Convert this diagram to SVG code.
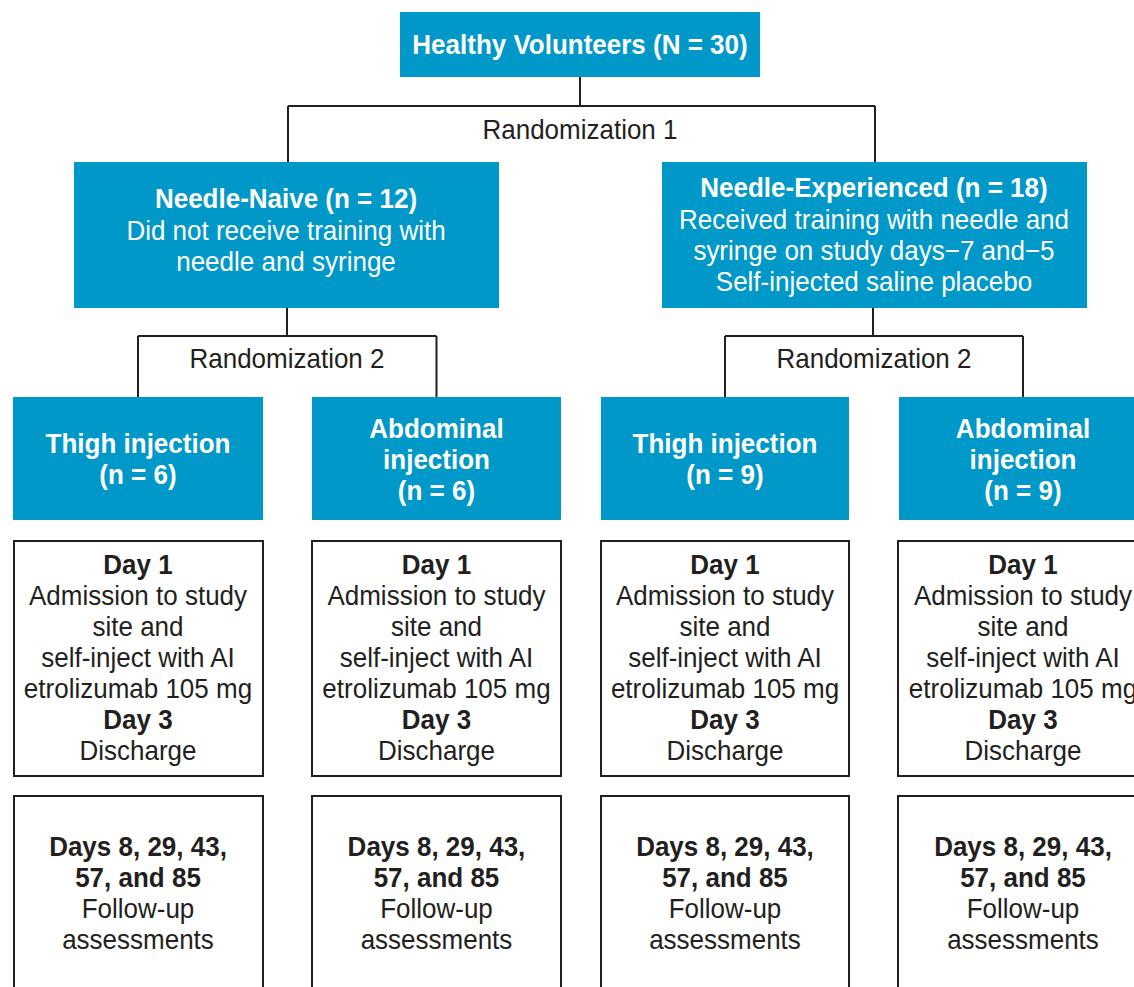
<svg xmlns="http://www.w3.org/2000/svg" width="1134" height="987" viewBox="0 0 1134 987">
<style>
text { font-family: "Liberation Sans", Arial, sans-serif; font-size: 26px; text-anchor: middle; transform-box: fill-box; transform-origin: center; transform: scaleY(1.08); }
.w { fill: #ffffff; }
.d { fill: #231f20; }
.b { font-weight: bold; }
.blue { fill: #0098c8; }
.box { fill: #ffffff; stroke: #231f20; stroke-width: 2; }
.conn { fill: none; stroke: #231f20; stroke-width: 2; }
</style>
<rect width="1134" height="987" fill="#ffffff"/>
<g id="connectors">
  <path class="conn" d="M580 77 V106 M288 106 H875 M288 106 V162 M875 106 V162"/>
  <path class="conn" d="M287 308 V336 M138 336 H436.5 M138 336 V397 M436.5 336 V397"/>
  <path class="conn" d="M873 308 V336 M725 336 H1023 M725 336 V397 M1023 336 V397"/>
  <text class="d" x="580" y="138">Randomization 1</text>
  <text class="d" x="287" y="367">Randomization 2</text>
  <text class="d" x="874" y="367">Randomization 2</text>
</g>
<g id="healthy">
  <rect class="blue" x="400" y="12" width="360" height="65"/>
  <text class="w b" x="580" y="53">Healthy Volunteers (N = 30)</text>
</g>
<g id="naive">
  <rect class="blue" x="74" y="162" width="425" height="146"/>
  <text class="w b" x="286" y="207">Needle-Naive (n = 12)</text>
  <text class="w" x="286" y="239">Did not receive training with</text>
  <text class="w" x="286" y="270">needle and syringe</text>
</g>
<g id="experienced">
  <rect class="blue" x="662" y="162" width="425" height="146"/>
  <text class="w b" x="874" y="196">Needle-Experienced (n = 18)</text>
  <text class="w" x="874" y="228">Received training with needle and</text>
  <text class="w" x="874" y="259">syringe on study days−7 and−5</text>
  <text class="w" x="874" y="290">Self-injected saline placebo</text>
</g>
<g id="thigh1">
  <rect class="blue" x="13" y="397" width="250" height="123"/>
  <text class="w b" x="138" y="452">Thigh injection</text>
  <text class="w b" x="138" y="483">(n = 6)</text>
</g>
<g id="abd1">
  <rect class="blue" x="312" y="397" width="249" height="123"/>
  <text class="w b" x="436.5" y="437">Abdominal</text>
  <text class="w b" x="436.5" y="468">injection</text>
  <text class="w b" x="436.5" y="499">(n = 6)</text>
</g>
<g id="thigh2">
  <rect class="blue" x="601" y="397" width="248" height="123"/>
  <text class="w b" x="725" y="452">Thigh injection</text>
  <text class="w b" x="725" y="483">(n = 9)</text>
</g>
<g id="abd2">
  <rect class="blue" x="899" y="397" width="249" height="123"/>
  <text class="w b" x="1023" y="437">Abdominal</text>
  <text class="w b" x="1023" y="468">injection</text>
  <text class="w b" x="1023" y="499">(n = 9)</text>
</g>
<g id="day1">
  <rect class="box" x="14" y="541" width="249" height="235"/>
  <text class="d b" x="138" y="573">Day 1</text>
  <text class="d" x="138" y="604">Admission to study</text>
  <text class="d" x="138" y="635">site and</text>
  <text class="d" x="138" y="666">self-inject with AI</text>
  <text class="d" x="138" y="697">etrolizumab 105 mg</text>
  <text class="d b" x="138" y="728">Day 3</text>
  <text class="d" x="138" y="759">Discharge</text>
</g>
<g id="day2">
  <rect class="box" x="312" y="541" width="249" height="235"/>
  <text class="d b" x="436.5" y="573">Day 1</text>
  <text class="d" x="436.5" y="604">Admission to study</text>
  <text class="d" x="436.5" y="635">site and</text>
  <text class="d" x="436.5" y="666">self-inject with AI</text>
  <text class="d" x="436.5" y="697">etrolizumab 105 mg</text>
  <text class="d b" x="436.5" y="728">Day 3</text>
  <text class="d" x="436.5" y="759">Discharge</text>
</g>
<g id="day3">
  <rect class="box" x="601" y="541" width="248" height="235"/>
  <text class="d b" x="725" y="573">Day 1</text>
  <text class="d" x="725" y="604">Admission to study</text>
  <text class="d" x="725" y="635">site and</text>
  <text class="d" x="725" y="666">self-inject with AI</text>
  <text class="d" x="725" y="697">etrolizumab 105 mg</text>
  <text class="d b" x="725" y="728">Day 3</text>
  <text class="d" x="725" y="759">Discharge</text>
</g>
<g id="day4">
  <rect class="box" x="898" y="541" width="250" height="235"/>
  <text class="d b" x="1023" y="573">Day 1</text>
  <text class="d" x="1023" y="604">Admission to study</text>
  <text class="d" x="1023" y="635">site and</text>
  <text class="d" x="1023" y="666">self-inject with AI</text>
  <text class="d" x="1023" y="697">etrolizumab 105 mg</text>
  <text class="d b" x="1023" y="728">Day 3</text>
  <text class="d" x="1023" y="759">Discharge</text>
</g>
<g id="follow1">
  <rect class="box" x="14" y="796" width="249" height="220"/>
  <text class="d b" x="138" y="855">Days 8, 29, 43,</text>
  <text class="d b" x="138" y="886">57, and 85</text>
  <text class="d" x="138" y="917">Follow-up</text>
  <text class="d" x="138" y="948">assessments</text>
</g>
<g id="follow2">
  <rect class="box" x="312" y="796" width="249" height="220"/>
  <text class="d b" x="436.5" y="855">Days 8, 29, 43,</text>
  <text class="d b" x="436.5" y="886">57, and 85</text>
  <text class="d" x="436.5" y="917">Follow-up</text>
  <text class="d" x="436.5" y="948">assessments</text>
</g>
<g id="follow3">
  <rect class="box" x="601" y="796" width="248" height="220"/>
  <text class="d b" x="725" y="855">Days 8, 29, 43,</text>
  <text class="d b" x="725" y="886">57, and 85</text>
  <text class="d" x="725" y="917">Follow-up</text>
  <text class="d" x="725" y="948">assessments</text>
</g>
<g id="follow4">
  <rect class="box" x="898" y="796" width="250" height="220"/>
  <text class="d b" x="1023" y="855">Days 8, 29, 43,</text>
  <text class="d b" x="1023" y="886">57, and 85</text>
  <text class="d" x="1023" y="917">Follow-up</text>
  <text class="d" x="1023" y="948">assessments</text>
</g>
</svg>
